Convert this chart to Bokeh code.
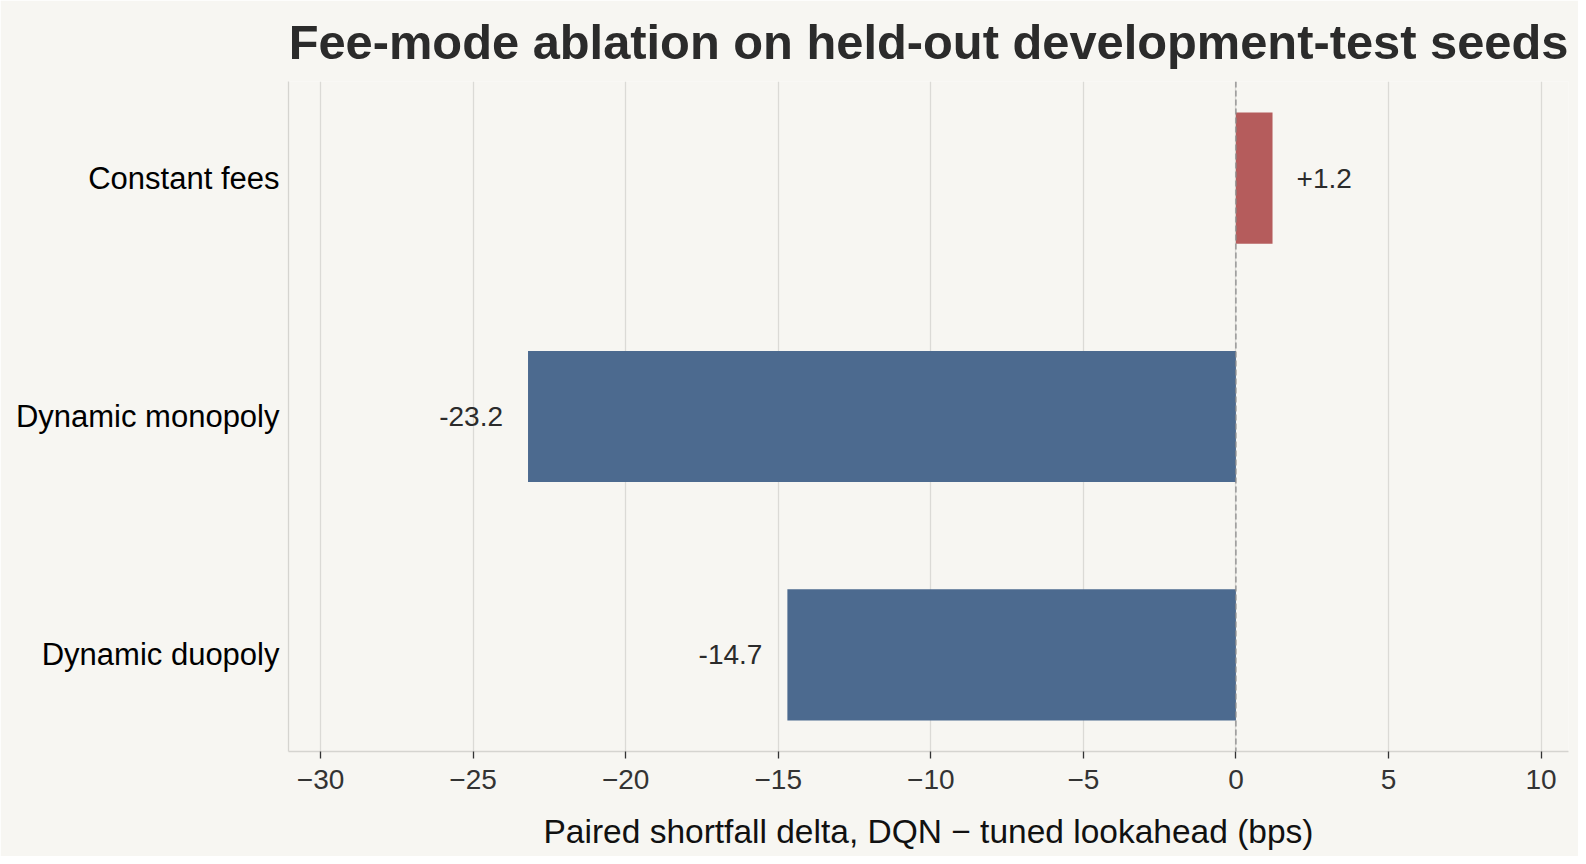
from bokeh.plotting import figure
from bokeh.models import Range1d, FixedTicker, CustomJSTickFormatter, Span, ColumnDataSource
from bokeh.core.properties import value
from bokeh.embed import file_html
from bokeh.resources import INLINE

# ---- data ----
categories = ["Constant fees", "Dynamic monopoly", "Dynamic duopoly"]
deltas = [1.2, -23.2, -14.7]
bar_labels = ["+1.2", "-23.2", "-14.7"]
x_ticks = [-30, -25, -20, -15, -10, -5, 0, 5, 10]
x_tick_labels = ["\u221230", "\u221225", "\u221220", "\u221215", "\u221210", "\u22125", "0", "5", "10"]

BG = "#F7F6F2"
POS = "#B55C5C"
NEG = "#4C6A8F"
FONT = "Liberation Sans"

idx = list(range(len(categories)))
colors = [POS if d > 0 else NEG for d in deltas]
offsets = [24 if d > 0 else -25 for d in deltas]
aligns = ["left" if d > 0 else "right" for d in deltas]

src = ColumnDataSource(dict(y=idx, right=deltas, color=colors, label=bar_labels,
                            xoff=offsets, align=aligns))

p = figure(width=1578, height=856, output_backend="svg", toolbar_location=None,
           x_range=Range1d(-31.05, 10.9), y_range=Range1d(2.405, -0.405),
           min_border_left=288, min_border_right=10, min_border_top=81, min_border_bottom=105,
           background_fill_color=BG, border_fill_color=BG)
p.outline_line_color = None

p.title.text = "Fee-mode ablation on held-out development-test seeds"
p.title.text_font = FONT
p.title.text_font_size = "48.8px"
p.title.text_font_style = "bold"
p.title.text_color = "#2b2b2b"
p.title.align = "center"
p.title.standoff = 25

p.hbar(y="y", left=0, right="right", height=0.55, color="color", line_color=None, source=src)

p.add_layout(Span(location=0, dimension="height", line_color="#8c8c8c", line_width=1.3,
                  line_dash="6 3"))

p.text(x="right", y="y", text="label", x_offset="xoff", text_align="align",
       text_baseline="middle", text_font=value(FONT), text_font_size="28px",
       text_color="#2b2b2b", source=src)

# grid
p.ygrid.grid_line_color = None
p.xgrid.ticker = FixedTicker(ticks=x_ticks)
p.xgrid.grid_line_color = "#DBDAD6"
p.xgrid.grid_line_width = 1.3

# x axis
xa = p.xaxis[0]
xa.ticker = FixedTicker(ticks=x_ticks)
xa.formatter = CustomJSTickFormatter(args=dict(tvals=x_ticks, tlabels=x_tick_labels), code="""
    const i = tvals.indexOf(Math.round(tick));
    return i >= 0 ? tlabels[i] : "";
""")
xa.axis_label = "Paired shortfall delta, DQN \u2212 tuned lookahead (bps)"
xa.axis_label_text_font = FONT
xa.axis_label_text_font_size = "33.5px"
xa.axis_label_text_font_style = "normal"
xa.axis_label_text_color = "#111111"
xa.axis_label_standoff = 21
xa.major_label_text_font = FONT
xa.major_label_text_font_size = "28px"
xa.major_label_text_color = "#333333"
xa.major_label_standoff = 11
xa.axis_line_color = "#D5D4D0"
xa.axis_line_width = 1.3
xa.major_tick_line_color = "#333333"
xa.major_tick_line_width = 1.3
xa.major_tick_out = 7
xa.major_tick_in = 0
xa.minor_tick_line_color = None

# y axis
ya = p.yaxis[0]
ya.ticker = FixedTicker(ticks=idx)
ya.formatter = CustomJSTickFormatter(args=dict(cats=categories), code="""
    const i = Math.round(tick);
    return (i >= 0 && i < cats.length) ? cats[i] : "";
""")
ya.major_label_text_font = FONT
ya.major_label_text_font_size = "31px"
ya.major_label_text_color = "#000000"
ya.major_label_standoff = 9
ya.axis_line_color = "#D5D4D0"
ya.axis_line_width = 1.3
ya.major_tick_line_color = None
ya.major_tick_out = 0
ya.major_tick_in = 0
ya.minor_tick_line_color = None

open("out.html", "w").write(file_html(p, INLINE))
